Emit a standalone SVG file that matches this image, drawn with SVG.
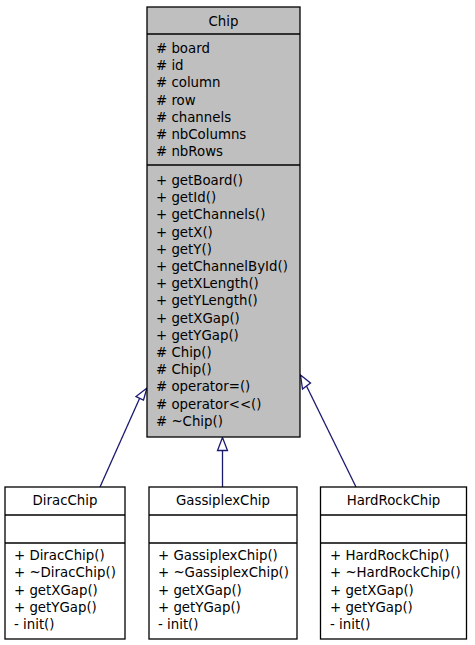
<svg xmlns="http://www.w3.org/2000/svg" width="475" height="645" viewBox="0 0 475 645">
<style>
text{font-family:"DejaVu Sans","Liberation Sans",sans-serif;font-size:13.33px;fill:#000}
.t{text-anchor:middle}
.box{stroke:#000;stroke-width:1.3}
.base{fill:#bfbfbf}
.sub{fill:#fff}
.edge{stroke:#191970;stroke-width:1.3;fill:none}
.head{stroke:#191970;stroke-width:1.3;fill:#fff}
</style>
<rect width="475" height="645" fill="#fff"/>
<g id="edges">
<path class="edge" d="M100,487 L140,397.5"/>
<polygon class="head" points="147,388 136,396.5 143.5,400"/>
<path class="edge" d="M222.5,487 L222.5,450.5"/>
<polygon class="head" points="222.5,437.5 217.5,450.5 227.5,450.5"/>
<path class="edge" d="M356,487 L306.5,386"/>
<polygon class="head" points="300.5,375 302.5,389 310.5,383"/>
</g>
<g id="Chip">
<rect class="box base" x="147" y="7" width="153" height="430"/>
<line class="box" x1="147" y1="34" x2="300" y2="34"/>
<line class="box" x1="147" y1="165" x2="300" y2="165"/>
<text class="t" x="223.5" y="26">Chip</text>
<text x="156" y="53"># board</text>
<text x="156" y="70.2"># id</text>
<text x="156" y="87.4"># column</text>
<text x="156" y="104.6"># row</text>
<text x="156" y="121.8"># channels</text>
<text x="156" y="139"># nbColumns</text>
<text x="156" y="156.2"># nbRows</text>
<text x="156" y="185">+ getBoard()</text>
<text x="156" y="202.2">+ getId()</text>
<text x="156" y="219.4">+ getChannels()</text>
<text x="156" y="236.6">+ getX()</text>
<text x="156" y="253.8">+ getY()</text>
<text x="156" y="271">+ getChannelById()</text>
<text x="156" y="288.2">+ getXLength()</text>
<text x="156" y="305.4">+ getYLength()</text>
<text x="156" y="322.6">+ getXGap()</text>
<text x="156" y="339.8">+ getYGap()</text>
<text x="156" y="357"># Chip()</text>
<text x="156" y="374.2"># Chip()</text>
<text x="156" y="391.4"># operator=()</text>
<text x="156" y="408.6"># operator&lt;&lt;()</text>
<text x="156" y="425.8"># ~Chip()</text>
</g>
<g id="DiracChip">
<rect class="box sub" x="5" y="487" width="120" height="152"/>
<line class="box" x1="5" y1="515" x2="125" y2="515"/>
<line class="box" x1="5" y1="543" x2="125" y2="543"/>
<text class="t" x="65" y="505">DiracChip</text>
<text x="14" y="560">+ DiracChip()</text>
<text x="14" y="577.3">+ ~DiracChip()</text>
<text x="14" y="594.6">+ getXGap()</text>
<text x="14" y="611.9">+ getYGap()</text>
<text x="14" y="629.2">- init()</text>
</g>
<g id="GassiplexChip">
<rect class="box sub" x="149" y="487" width="148" height="152"/>
<line class="box" x1="149" y1="515" x2="297" y2="515"/>
<line class="box" x1="149" y1="543" x2="297" y2="543"/>
<text class="t" x="223" y="505">GassiplexChip</text>
<text x="158" y="560">+ GassiplexChip()</text>
<text x="158" y="577.3">+ ~GassiplexChip()</text>
<text x="158" y="594.6">+ getXGap()</text>
<text x="158" y="611.9">+ getYGap()</text>
<text x="158" y="629.2">- init()</text>
</g>
<g id="HardRockChip">
<rect class="box sub" x="320.5" y="487" width="146" height="152"/>
<line class="box" x1="320.5" y1="515" x2="466.5" y2="515"/>
<line class="box" x1="320.5" y1="543" x2="466.5" y2="543"/>
<text class="t" x="393.5" y="505">HardRockChip</text>
<text x="330" y="560">+ HardRockChip()</text>
<text x="330" y="577.3">+ ~HardRockChip()</text>
<text x="330" y="594.6">+ getXGap()</text>
<text x="330" y="611.9">+ getYGap()</text>
<text x="330" y="629.2">- init()</text>
</g>
</svg>
